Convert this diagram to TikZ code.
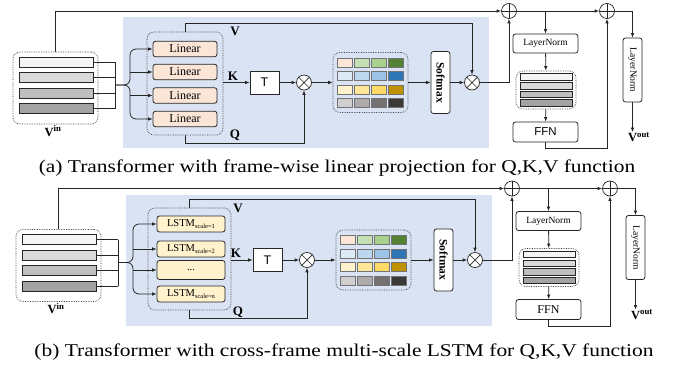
\documentclass[tikz,border=0pt]{standalone}
\usepackage{fontspec}
\setmainfont{Liberation Serif}
\setsansfont{Liberation Sans}
\usetikzlibrary{arrows.meta,calc}
\definecolor{bgblue}{HTML}{DAE3F3}
\definecolor{peach}{HTML}{FBE5D6}
\definecolor{lyellow}{HTML}{FFF2CC}
\definecolor{m00}{HTML}{FBE5D6}\definecolor{m01}{HTML}{C5E0B4}\definecolor{m02}{HTML}{A9D18E}\definecolor{m03}{HTML}{548235}
\definecolor{m10}{HTML}{DEEBF7}\definecolor{m11}{HTML}{BDD7EE}\definecolor{m12}{HTML}{9DC3E6}\definecolor{m13}{HTML}{2E75B6}
\definecolor{m20}{HTML}{FFF2CC}\definecolor{m21}{HTML}{FFE699}\definecolor{m22}{HTML}{FFD966}\definecolor{m23}{HTML}{BF9000}
\definecolor{m30}{HTML}{D0CECE}\definecolor{m31}{HTML}{AEAAAA}\definecolor{m32}{HTML}{767171}\definecolor{m33}{HTML}{3B3838}
\newcommand\lstmsub[1]{LSTM\raisebox{-2pt}{\fontsize{6.5}{6.5}\selectfont #1}}
\tikzset{
  grp/.style={draw=black!75, densely dotted, rounded corners=7pt, line width=0.7pt, inner sep=0pt},
  bar/.style={draw=black!85, line width=0.8pt, inner sep=0pt, minimum width=74pt, minimum height=10pt},
  cell/.style={draw=black!55, line width=0.6pt, inner sep=0pt, minimum width=15pt, minimum height=9pt},
  box/.style={draw=black!85, rounded corners=2.5pt, line width=0.8pt, inner sep=0pt, fill=white},
  lbl/.style={font=\bfseries\fontsize{13}{13}\selectfont, inner sep=0pt},
  opx/.style={circle, draw=black!85, line width=0.7pt, minimum size=15pt, inner sep=0pt, fill=white,
    path picture={\draw[line width=0.7pt] (path picture bounding box.north west) -- (path picture bounding box.south east)
      (path picture bounding box.north east) -- (path picture bounding box.south west);}},
  opp/.style={circle, draw=black!85, line width=0.7pt, minimum size=15pt, inner sep=0pt, fill=white,
    path picture={\draw[line width=0.7pt] (path picture bounding box.north) -- (path picture bounding box.south)
      (path picture bounding box.west) -- (path picture bounding box.east);}},
  conn/.style={draw=black!85, line width=0.8pt},
  captxt/.style={font=\fontsize{18}{18}\selectfont, anchor=base, xscale=1.19, inner sep=0pt},
  lstm/.style={box, fill=lyellow, minimum width=68pt, minimum height=16pt, font=\fontsize{10.5}{10.5}\selectfont}
}
\newcommand\drawpanel[4]{%
\begin{scope}[shift={#2}, name prefix=#1-]
  \fill[bgblue] (123,17) rectangle (489,148);
  % input features
  \node[grp, minimum width=85pt, minimum height=72pt] (vin) at (55.5,88) {};
  \foreach \y/\c [count=\k] in {62/gray!8, 77.5/gray!30, 93/gray!50, 108.5/gray!72}
    \node[bar, fill=\c] (b\k) at (56,\y) {};
  \node[font=\bfseries\fontsize{12.5}{12.5}\selectfont] (vinl) at (53,131) {V\textsuperscript{in}};
  % projection boxes
  #4
  % brace connectors
  \coordinate (j) at (115,85);
  \coordinate (bx) at (130,85);
  \foreach \k in {1,...,4} \draw[conn] (b\k.east) -- (b\k.east -| j);
  \draw[conn] (b1.east -| j) -- (b4.east -| j);
  \draw[conn, ->, rounded corners=6pt] (j) -| (bx |- p1.west) -- (p1.west);
  \draw[conn, ->, rounded corners=6pt] (j) -| (bx |- p4.west) -- (p4.west);
  \draw[conn, ->] (bx |- p2.west) -- (p2.west);
  \draw[conn, ->] (bx |- p3.west) -- (p3.west);
  % attention
  \node[box, rounded corners=0pt, minimum width=29pt, minimum height=23pt, font=\sffamily\fontsize{12.5}{12.5}\selectfont] (T) at (264.5,82.5) {T};
  \node[opx] (x1) at (304,82.5) {};
  \node[lbl] (Vl) at (235,31) {V};
  \node[lbl] (Kl) at (233,76) {K};
  \node[lbl] (Ql) at (235,135) {Q};
  \node[grp, minimum width=75pt, minimum height=60pt] (mg) at (370.5,82.5) {};
  \foreach \r in {0,...,3} \foreach \c in {0,...,3}
    \node[cell, fill=m\r\c] (c\r\c) at (345+17*\c, 62.5+13.5*\r) {};
  \node[box, rotate=-90, minimum width=62pt, minimum height=19pt, font=\bfseries\fontsize{11.5}{11.5}\selectfont] (sm) at (440.5,82.5) {Softmax};
  \node[opx] (x2) at (472,82.5) {};
  \draw[conn, ->] (T.west -| lg.east) -- (T.west);
  \draw[conn, ->] (T) -- (x1);
  \draw[conn, ->] (lg.south) -- ++(0,8) -| (x1.south);
  \draw[conn, ->] (lg.north) -- ++(0,-8) -| (x2.north);
  \draw[conn, ->] (x1) -- (mg);
  \draw[conn, ->] (mg) -- (sm);
  \draw[conn, ->] (sm) -- (x2);
  % residual + FFN
  \node[opp] (a1) at (509,11) {};
  \node[opp] (a2) at (607,11) {};
  \draw[conn, ->] (x2.east) -| (a1.south);
  \draw[conn, ->] (vin.north) |- (a1.west);
  \draw[conn, ->] (a1) -- (a2);
  \node[box, minimum width=65pt, minimum height=19pt, font=\fontsize{9.5}{9.5}\selectfont] (ln1) at (545.5,43.5) {LayerNorm};
  \draw[conn, ->] (a1.east -| ln1.north) -- (ln1.north);
  \node[grp, minimum width=60pt, minimum height=38pt] (fg) at (546,90) {};
  \foreach \y/\c [count=\k] in {77/gray!8, 85.7/gray!30, 94.4/gray!50, 103.1/gray!72}
    \node[bar, fill=\c, minimum width=52pt, minimum height=6.5pt] (f\k) at (546,\y) {};
  \draw[conn, ->] (ln1) -- (fg);
  \node[box, minimum width=65pt, minimum height=20pt, font=#3] (ffn) at (545.5,132) {FFN};
  \draw[conn, ->] (fg) -- (ffn);
  \draw[conn, ->] (ffn.south) -- ++(0,6) -| (a2.south);
  \node[box, rotate=-90, minimum width=64pt, minimum height=19pt, font=\fontsize{9.5}{9.5}\selectfont] (ln2) at (632.5,70) {LayerNorm};
  \draw[conn, ->] (a2.east) -| (ln2.west);
  \node[font=\bfseries\fontsize{12.5}{12.5}\selectfont, inner sep=0pt] (vout) at (639,137) {V\textsuperscript{out}};
  \draw[conn, ->] (ln2.east) -- (ln2.east |- vout.north);
\end{scope}}
\begin{document}
\begin{tikzpicture}[x=1pt, y=-1pt, >={Latex[length=4.5pt,width=3.6pt]}]
\useasboundingbox (0,0) rectangle (675,365);
\fill[white] (0,0) rectangle (675,365);
\drawpanel{a}{(0,0)}{\sffamily\fontsize{11.5}{11.5}\selectfont}{%
  \node[grp, minimum width=76pt, minimum height=103pt] (lg) at (185,83.5) {};
  \foreach \y [count=\k] in {49,72,95.5,119}
    \node[box, fill=peach, minimum width=64pt, minimum height=15.5pt, font=\fontsize{12}{12}\selectfont] (p\k) at (185,\y) {Linear};
}
\drawpanel{b}{(3,177.5)}{\fontsize{12}{12}\selectfont}{%
  \node[grp, minimum width=83pt, minimum height=102pt] (lg) at (186.5,81.5) {};
  \node[lstm] (p1) at (188,46.5) {\lstmsub{scale=1}};
  \node[lstm] (p2) at (188,71.5) {\lstmsub{scale=2}};
  \node[lstm, minimum height=19pt] (p3) at (188,92.5) {...};
  \node[lstm] (p4) at (188,116.5) {\lstmsub{scale=n}};
}
\node[captxt] (capa) at (337,172) {(a) Transformer with frame-wise linear projection for Q,K,V function};
\node[captxt] (capb) at (344,356) {(b) Transformer with cross-frame multi-scale LSTM for Q,K,V function};
\end{tikzpicture}
\end{document}
